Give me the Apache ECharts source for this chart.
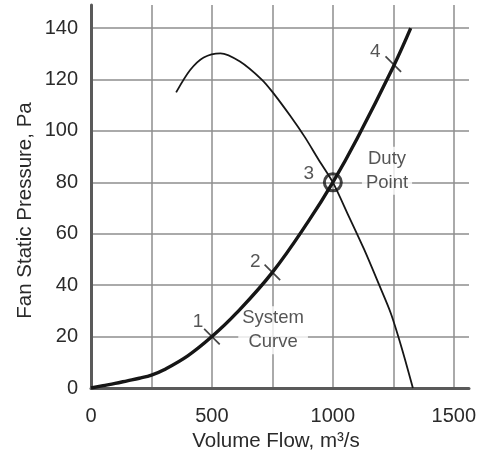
<!DOCTYPE html>
<html>
<head>
<meta charset="utf-8">
<script src="https://cdn.jsdelivr.net/npm/echarts@6/dist/echarts.min.js"></script>
<style>html,body{margin:0;padding:0;background:#fff;}#c{width:493px;height:455px;}</style>
</head>
<body>
<div id="c"></div>
<script>
// ---- data ----
const xTitle = 'Volume Flow, m\u00B3/s';
const yTitle = 'Fan Static Pressure, Pa';
const systemCurve = [[0,0],[50,0.9],[100,1.8],[150,2.8],[200,3.8],[250,5],[300,7],[400,12.5],[500,20],[600,29],[750,45],[900,65],[1000,80],[1100,97],[1250,125],[1322,140]];
const fanCurve = [[352,115],[410,123.7],[466,128.6],[535,130.2],[616,127],[706,120],[750,115.2],[823,106],[885,97.5],[940,89],[1000,80],[1065,67],[1129,54],[1192,40],[1240,29],[1285,15.5],[1331,0]];
const tickPoints = [[500,20],[750,45],[1250,126]];
const tickNames = ['1','2','4'];
const dutyPoint = [[1000,80]];
const dutyName = '3';
const notes = [{text:'System\nCurve', x:753, y:22.5},{text:'Duty\nPoint', x:1224, y:84.5}];

const font = '"Liberation Sans", Arial, Helvetica, sans-serif';
const txt = '#2a2a2a';
const tickOffsets = [[-14,-15],[-17,-11],[-18,-12]];

const chart = echarts.init(document.getElementById('c'), null, {renderer:'canvas'});
chart.setOption({
  animation:false,
  backgroundColor:'#fff',
  grid:{left:91,right:24,top:5,bottom:67,containLabel:false,outerBoundsMode:'none'},
  xAxis:{
    type:'value', min:0, max:1563, interval:250,
    name:xTitle, nameLocation:'middle', nameGap:43, nameMoveOverlap:false,
    nameTextStyle:{fontFamily:font,fontSize:20.5,color:txt,padding:[0,8,0,0]},
    axisLine:{show:true,onZero:false,lineStyle:{color:'#5a5a5a',width:3}},
    axisTick:{show:false},
    axisLabel:{fontFamily:font,fontSize:20,color:txt,margin:18,showMaxLabel:false,
      formatter:v=> (v%500===0 ? String(v) : '')},
    splitLine:{show:true,showMaxLine:false,lineStyle:{color:'#8e8e8e',width:1.5}}
  },
  yAxis:{
    type:'value', min:0, max:149, interval:20,
    name:yTitle, nameLocation:'middle', nameGap:55, nameMoveOverlap:false,
    nameTextStyle:{fontFamily:font,fontSize:20.5,color:txt,padding:[0,28,0,0]},
    axisLine:{show:true,onZero:false,lineStyle:{color:'#5a5a5a',width:3}},
    axisTick:{show:false},
    axisLabel:{fontFamily:font,fontSize:20,color:txt,margin:13,showMaxLabel:false},
    splitLine:{show:true,showMaxLine:false,lineStyle:{color:'#8e8e8e',width:1.5}}
  },
  series:[
    {type:'line', data:fanCurve, smooth:0.3, symbol:'none',
     lineStyle:{color:'#161616',width:1.8}, z:3},
    {type:'line', data:systemCurve, smooth:0.4, symbol:'none',
     lineStyle:{color:'#161616',width:3.4}, z:4},
    {type:'scatter', data:tickPoints.map((p,i)=>({value:p,
        label:{show:true,formatter:tickNames[i],position:'inside',offset:tickOffsets[i]}})),
     symbol:'rect', symbolSize:[1.7,22], symbolRotate:45,
     itemStyle:{color:'#161616'},
     label:{fontFamily:font,fontSize:19,color:txt}, z:5},
    {type:'scatter', data:dutyPoint.map(p=>({value:p,
        label:{show:true,formatter:dutyName,position:'inside',offset:[-24,-9]}})),
     symbol:'circle', symbolSize:17,
     itemStyle:{color:'rgba(0,0,0,0)',borderColor:'#161616',borderWidth:3},
     label:{fontFamily:font,fontSize:19,color:txt}, z:5},
    {type:'scatter', data:notes.map(n=>({value:[n.x,n.y],
        label:{show:true,formatter:n.text}})),
     symbol:'circle', symbolSize:1, itemStyle:{color:'rgba(0,0,0,0)'},
     label:{position:'inside',fontFamily:font,fontSize:18.5,color:txt,lineHeight:24,
       backgroundColor:'#fff',padding:[0,4]}, z:2, silent:true}
  ]
});
</script>
</body>
</html>
